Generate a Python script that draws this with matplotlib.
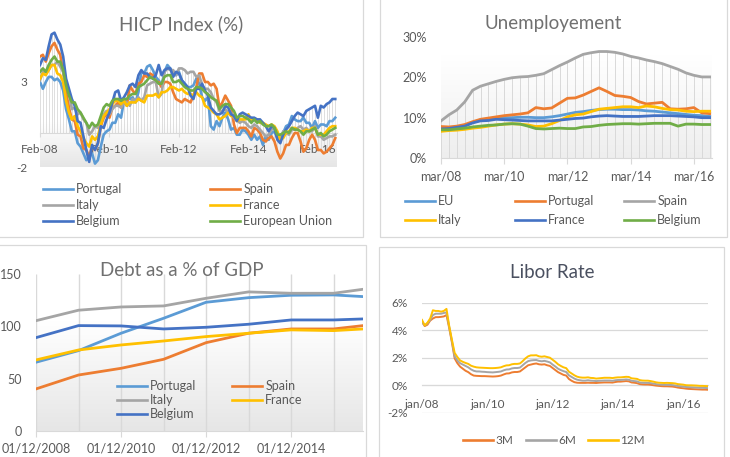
import numpy as np
import matplotlib.pyplot as plt
from matplotlib.colors import LinearSegmentedColormap
from matplotlib.patches import Rectangle
from matplotlib.lines import Line2D

plt.rcParams['font.family'] = ['Lato', 'DejaVu Sans']
plt.rcParams['axes.unicode_minus'] = False

# ---------------- data ----------------
# HICP, monthly, Feb 2008 .. Aug 2016 (annual rate, %)
hicp_portugal = [3.0, 2.6, 3.0, 3.3, 3.3, 3.1, 3.2, 3.0, 2.5, 1.4, 0.8,
                 0.1, 0.1, -0.6, -0.8, -1.2, -1.6, -1.4, -1.2, -1.8, -1.6, -0.8, -0.1,
                 0.1, 0.2, 0.6, 0.6, 1.1, 0.9, 1.9, 2.0, 2.0, 2.1, 1.8, 2.4,
                 3.6, 3.5, 3.9, 4.0, 3.7, 3.3, 3.1, 2.8, 3.6, 4.0, 3.8, 3.5,
                 3.4, 3.6, 3.1, 2.9, 2.7, 2.7, 2.8, 3.2, 2.9, 2.1, 1.9, 2.1,
                 0.4, 0.2, 0.7, 0.4, 0.9, 1.2, 0.8, 0.2, 0.3, -0.1, -0.1, 0.2,
                 0.1, -0.1, -0.4, -0.1, -0.4, -0.2, -0.7, -0.2, -0.4, 0.0, 0.1, -0.3,
                 -0.4, 0.0, 0.4, 0.5, 1.0, 0.8, 0.7, 0.7, 0.9, 0.6, 0.6, 0.3,
                 0.7, 0.3, 0.5, 0.5, 0.4, 0.7, 0.7, 0.9]
hicp_spain = [4.5, 4.6, 4.2, 4.7, 5.1, 5.3, 4.9, 4.6, 3.6, 2.4, 1.5,
              0.8, 0.7, -0.1, -0.2, -0.9, -1.0, -1.4, -0.8, -1.0, -0.6, 0.4, 0.9,
              1.1, 0.9, 1.5, 1.6, 1.8, 1.5, 1.9, 1.6, 2.8, 2.5, 2.3, 2.9,
              3.0, 3.4, 3.3, 3.5, 3.4, 3.0, 3.0, 2.7, 3.0, 3.0, 2.9, 2.4,
              2.0, 1.9, 1.8, 2.0, 1.9, 1.8, 2.2, 2.7, 3.5, 3.5, 3.0, 3.0,
              2.8, 2.9, 2.6, 1.5, 1.8, 2.2, 1.9, 1.6, 0.5, 0.0, 0.3, 0.3,
              0.3, 0.1, -0.2, 0.3, 0.2, 0.0, -0.4, -0.5, -0.3, -0.2, -0.5, -1.1,
              -1.5, -1.2, -0.7, -0.7, -0.3, 0.0, 0.0, -0.5, -1.1, -0.9, -0.4, -0.1,
              -0.4, -1.0, -1.0, -1.2, -1.1, -0.9, -0.7, -0.3]
hicp_italy = [3.1, 3.6, 3.6, 3.7, 4.0, 4.0, 4.2, 3.9, 3.6, 2.7, 2.4,
              1.4, 1.5, 1.1, 1.2, 0.8, 0.6, -0.1, 0.1, 0.4, 0.3, 0.8, 1.1,
              1.3, 1.1, 1.4, 1.6, 1.6, 1.5, 1.8, 1.8, 1.6, 2.0, 1.9, 2.1,
              1.9, 2.1, 2.8, 2.9, 3.0, 3.0, 2.1, 2.3, 3.6, 3.8, 3.7, 3.7,
              3.4, 3.8, 3.8, 3.7, 3.5, 3.6, 3.6, 3.3, 3.4, 2.8, 2.6, 2.6,
              2.4, 2.0, 1.8, 1.3, 1.3, 1.4, 1.2, 1.2, 0.9, 0.8, 0.6, 0.7,
              0.6, 0.4, 0.3, 0.5, 0.4, 0.2, 0.0, -0.2, -0.1, 0.2, 0.3, -0.1,
              -0.5, 0.1, 0.0, -0.1, 0.2, 0.2, 0.3, 0.4, 0.2, 0.3, 0.1, 0.1,
              0.4, -0.2, -0.2, -0.4, -0.3, -0.2, -0.2, -0.1]
hicp_france = [3.2, 3.5, 3.4, 3.7, 4.0, 4.0, 3.5, 3.4, 3.0, 1.9, 1.2,
               0.8, 1.0, 0.4, 0.1, -0.3, -0.6, -0.8, -0.2, -0.4, -0.2, 0.5, 1.0,
               1.2, 1.4, 1.7, 1.9, 1.9, 1.7, 1.9, 1.6, 1.8, 1.8, 1.8, 2.0,
               1.9, 1.8, 2.2, 2.2, 2.2, 2.3, 2.1, 2.4, 2.4, 2.5, 2.7, 2.7,
               2.6, 2.5, 2.6, 2.4, 2.3, 2.3, 2.2, 2.4, 2.2, 2.1, 1.6, 1.5,
               1.4, 1.2, 1.1, 0.8, 0.9, 1.0, 1.2, 1.0, 1.0, 0.7, 0.8, 0.8,
               0.8, 1.1, 0.7, 0.8, 0.8, 0.6, 0.6, 0.5, 0.4, 0.5, 0.4, 0.1,
               -0.4, -0.3, 0.0, 0.1, 0.3, 0.3, 0.2, 0.1, 0.1, 0.2, 0.1, 0.3,
               0.3, -0.1, -0.1, -0.1, 0.1, 0.3, 0.4, 0.4]
hicp_belgium = [4.0, 4.4, 4.3, 5.1, 5.8, 5.9, 5.5, 5.2, 4.5, 3.2, 2.6,
                2.0, 1.6, 0.7, 0.6, -0.2, -1.0, -1.7, -0.7, -1.0, -0.6, 0.4, 0.3,
                0.8, 1.2, 1.8, 2.4, 2.5, 1.9, 2.1, 2.4, 2.8, 2.9, 2.7, 3.4,
                3.7, 3.5, 3.5, 3.3, 3.2, 3.4, 4.0, 3.4, 3.7, 3.8, 3.8, 3.3,
                3.6, 3.5, 3.1, 2.9, 2.7, 2.2, 2.0, 2.6, 2.6, 2.9, 2.5, 2.2,
                1.5, 1.3, 1.1, 1.1, 1.2, 1.6, 1.5, 1.1, 1.0, 0.7, 1.1, 1.2,
                1.1, 1.0, 0.9, 0.9, 0.8, 0.8, 0.6, 0.4, 0.1, 0.4, 0.3, -0.4,
                -0.6, -0.1, 0.2, 0.4, 0.7, 1.0, 1.2, 1.1, 1.0, 1.3, 1.4, 1.5,
                1.6, 0.9, 1.6, 1.5, 1.7, 1.8, 2.0, 2.0]
hicp_eu = [3.6, 3.8, 3.6, 4.0, 4.3, 4.5, 4.2, 4.2, 3.7, 2.8, 2.2,
           1.8, 1.8, 1.4, 1.2, 0.9, 0.6, 0.3, 0.6, 0.4, 0.5, 1.0, 1.5,
           1.7, 1.6, 1.9, 2.0, 2.0, 1.9, 2.0, 2.0, 2.2, 2.3, 2.3, 2.7,
           2.8, 2.9, 3.1, 3.3, 3.2, 3.1, 2.9, 2.9, 3.3, 3.4, 3.4, 3.0,
           3.0, 3.1, 2.9, 2.7, 2.6, 2.5, 2.5, 2.7, 2.7, 2.6, 2.4, 2.3,
           2.1, 2.0, 1.9, 1.4, 1.6, 1.7, 1.7, 1.5, 1.3, 0.9, 1.0, 1.0,
           0.9, 0.8, 0.6, 0.8, 0.6, 0.7, 0.5, 0.4, 0.4, 0.5, 0.3, -0.1,
           -0.1, 0.0, 0.1, 0.0, 0.3, 0.2, 0.2, 0.1, -0.1, 0.1, 0.1, 0.2,
           0.3, -0.1, 0.0, -0.2, -0.1, 0.1, 0.2, 0.3]
hicp_ticks = [0, 24, 48, 72, 96]
hicp_ticklabels = ['Feb-08', 'Feb-10', 'Feb-12', 'Feb-14', 'Feb-16']

# Unemployment, quarterly, Mar 2008 .. Sep 2016 (%)
un_eu = [7.3, 7.4, 7.6, 8.0, 8.8, 9.4, 9.7, 9.9, 10.0, 10.0, 10.1, 10.1,
         10.0, 10.0, 10.2, 10.5, 10.9, 11.3, 11.5, 11.8, 12.0, 12.1, 12.1, 12.0,
         12.0, 11.9, 11.7, 11.6, 11.4, 11.2, 11.0, 10.8, 10.6, 10.5, 10.3]
un_portugal = [7.8, 7.7, 7.9, 8.3, 9.0, 9.6, 9.9, 10.2, 10.5, 10.7, 10.9, 11.2,
               12.5, 12.2, 12.4, 13.6, 14.8, 14.9, 15.6, 16.5, 17.4, 16.5, 15.5, 15.3,
               15.0, 14.0, 13.4, 13.6, 13.8, 12.2, 12.1, 12.2, 12.5, 11.2, 11.0]
un_spain = [9.2, 10.7, 11.9, 13.9, 16.8, 17.8, 18.4, 19.0, 19.5, 19.9, 20.1, 20.2,
            20.5, 20.9, 21.9, 22.9, 23.8, 24.8, 25.7, 26.1, 26.4, 26.4, 26.2, 25.8,
            25.2, 24.8, 24.3, 23.9, 23.4, 22.7, 22.0, 21.1, 20.5, 20.1, 20.1]
un_italy = [6.6, 6.8, 6.9, 7.1, 7.4, 7.6, 7.9, 8.2, 8.4, 8.5, 8.4, 8.2,
            7.8, 7.9, 8.5, 9.3, 10.2, 10.7, 10.9, 11.5, 12.1, 12.3, 12.5, 12.7,
            12.7, 12.5, 12.9, 12.7, 12.3, 12.0, 11.9, 11.6, 11.5, 11.6, 11.6]
un_france = [7.2, 7.3, 7.6, 7.9, 8.7, 9.2, 9.3, 9.6, 9.5, 9.4, 9.3, 9.2,
             9.2, 9.2, 9.2, 9.4, 9.6, 9.8, 9.9, 10.2, 10.4, 10.5, 10.4, 10.3,
             10.3, 10.3, 10.4, 10.5, 10.5, 10.5, 10.4, 10.3, 10.2, 10.0, 10.0]
un_belgium = [7.0, 7.0, 7.2, 7.4, 7.7, 7.9, 8.1, 8.2, 8.4, 8.5, 8.4, 7.9,
              7.3, 7.2, 7.3, 7.4, 7.3, 7.3, 7.7, 7.8, 8.1, 8.3, 8.4, 8.5,
              8.5, 8.4, 8.5, 8.6, 8.6, 8.6, 7.9, 8.4, 8.4, 8.3, 8.3]
un_ticks = [0, 8, 16, 24, 32]
un_ticklabels = ['mar/08', 'mar/10', 'mar/12', 'mar/14', 'mar/16']

# Debt as % of GDP, yearly 2008 .. 2016
debt_portugal = [65.7, 76.8, 93.4, 107.7, 123.0, 127.4, 129.7, 130.0, 127.7]
debt_spain = [40.2, 53.5, 59.9, 68.5, 84.4, 93.4, 97.5, 97.5, 102.1]
debt_italy = [105.4, 115.4, 118.5, 119.5, 126.8, 132.9, 131.6, 131.6, 137.1]
debt_france = [67.9, 77.4, 82.2, 86.0, 90.2, 93.4, 96.6, 95.9, 98.2]
debt_belgium = [89.2, 100.7, 100.4, 97.5, 99.1, 102.0, 106.1, 106.1, 107.5]
debt_ticks = [0, 2, 4, 6]
debt_ticklabels = ['01/12/2008', '01/12/2010', '01/12/2012', '01/12/2014']

# Libor, monthly, Jan 2008 .. Oct 2016 (%)
libor_3m = [4.60, 4.30, 4.40, 4.70, 4.85, 4.95, 4.95, 4.97, 5.00, 5.10, 4.15, 3.10,
            1.95, 1.60, 1.35, 1.20, 1.05, 0.95, 0.80, 0.70, 0.68, 0.67, 0.66, 0.66,
            0.65, 0.64, 0.63, 0.64, 0.66, 0.70, 0.78, 0.85, 0.86, 0.93, 0.96, 0.96,
            1.00, 1.15, 1.30, 1.45, 1.50, 1.55, 1.58, 1.52, 1.50, 1.52, 1.45, 1.40,
            1.25, 1.10, 0.95, 0.85, 0.75, 0.70, 0.45, 0.32, 0.22, 0.18, 0.17, 0.17,
            0.17, 0.18, 0.17, 0.17, 0.16, 0.18, 0.19, 0.20, 0.20, 0.20, 0.19, 0.23,
            0.26, 0.26, 0.28, 0.30, 0.28, 0.20, 0.18, 0.15, 0.08, 0.06, 0.05, 0.05,
            0.03, 0.00, -0.03, -0.05, -0.07, -0.08, -0.08, -0.09, -0.10, -0.13, -0.17, -0.20,
            -0.22, -0.25, -0.27, -0.28, -0.29, -0.30, -0.31, -0.32, -0.32, -0.33]
libor_6m = [4.60, 4.35, 4.50, 4.75, 5.10, 5.20, 5.20, 5.20, 5.25, 5.30, 4.25, 3.20,
            2.10, 1.80, 1.60, 1.50, 1.40, 1.30, 1.15, 1.05, 1.00, 1.00, 0.98, 0.97,
            0.95, 0.94, 0.93, 0.95, 0.97, 1.00, 1.08, 1.14, 1.15, 1.22, 1.25, 1.25,
            1.28, 1.45, 1.62, 1.75, 1.80, 1.82, 1.83, 1.77, 1.74, 1.77, 1.72, 1.66,
            1.50, 1.36, 1.20, 1.10, 1.02, 0.96, 0.72, 0.60, 0.48, 0.40, 0.36, 0.33,
            0.33, 0.36, 0.33, 0.32, 0.30, 0.32, 0.33, 0.34, 0.34, 0.34, 0.32, 0.36,
            0.38, 0.38, 0.40, 0.42, 0.40, 0.32, 0.30, 0.28, 0.20, 0.18, 0.17, 0.17,
            0.15, 0.12, 0.08, 0.05, 0.04, 0.03, 0.03, 0.02, 0.01, -0.02, -0.06, -0.08,
            -0.10, -0.13, -0.14, -0.15, -0.16, -0.17, -0.19, -0.19, -0.20, -0.21]
libor_12m = [4.75, 4.35, 4.55, 4.85, 5.45, 5.40, 5.40, 5.35, 5.40, 5.55, 4.30, 3.30,
             2.35, 2.05, 1.80, 1.70, 1.62, 1.55, 1.42, 1.35, 1.30, 1.28, 1.27, 1.26,
             1.25, 1.24, 1.24, 1.25, 1.27, 1.30, 1.38, 1.44, 1.45, 1.52, 1.55, 1.55,
             1.58, 1.75, 1.95, 2.10, 2.17, 2.17, 2.18, 2.10, 2.07, 2.10, 2.05, 2.00,
             1.85, 1.70, 1.52, 1.40, 1.30, 1.24, 0.98, 0.85, 0.72, 0.62, 0.57, 0.55,
             0.55, 0.57, 0.53, 0.52, 0.48, 0.50, 0.52, 0.54, 0.54, 0.54, 0.52, 0.55,
             0.57, 0.57, 0.59, 0.61, 0.60, 0.50, 0.48, 0.46, 0.37, 0.34, 0.33, 0.33,
             0.30, 0.26, 0.21, 0.18, 0.17, 0.16, 0.17, 0.16, 0.15, 0.13, 0.08, 0.06,
             0.04, 0.00, -0.01, -0.01, -0.02, -0.03, -0.05, -0.05, -0.06, -0.07]
libor_ticks = [0, 24, 48, 72, 96]
libor_ticklabels = ['jan/08', 'jan/10', 'jan/12', 'jan/14', 'jan/16']

# ---------------- styling ----------------
C_LBLUE, C_ORANGE, C_GRAY = '#5B9BD5', '#ED7D31', '#A5A5A5'
C_YELLOW, C_DBLUE, C_GREEN = '#FFC000', '#4472C4', '#70AD47'
TXT = '#595959'
TITLE = '#707070'
GRID = '#d9d9d9'

W, H = 730, 457
fig = plt.figure(figsize=(7.3, 4.57), dpi=100)


def box(l, t, r, b):
    # pixel box (from the top-left corner) -> figure fraction
    return [l / W, 1 - b / H, (r - l) / W, (b - t) / H]


def panel(l, t, r, b):
    fig.add_artist(Rectangle((l / W, 1 - b / H), (r - l) / W, (b - t) / H,
                             transform=fig.transFigure, fill=False,
                             ec='#d9d9d9', lw=0.9))


def gradient(ax, x0, x1, y0, y1, start, color):
    # white above 'start' (fraction of height), fading to color at the bottom
    t = np.linspace(0, 1, 256)[:, None]
    a = np.clip((start - t) / start, 0, 1)
    cmap = LinearSegmentedColormap.from_list('bg', ['white', color])
    ax.imshow(a, extent=[x0, x1, y0, y1], origin='lower', aspect='auto',
              cmap=cmap, vmin=0, vmax=1, zorder=0, interpolation='bilinear')


def legend_col(items, x, y, fs, spacing, hl=2.4):
    handles = [Line2D([], [], color=c, lw=1.9) for c, _ in items]
    labels = [n for _, n in items]
    fig.legend(handles, labels, loc='upper left', bbox_to_anchor=(x / W, 1 - y / H),
               frameon=False, fontsize=fs, handlelength=hl, handletextpad=0.25,
               borderpad=0, borderaxespad=0, labelspacing=spacing,
               labelcolor=TXT)


def plain(ax):
    ax.set_facecolor('none')
    for s in ax.spines.values():
        s.set_visible(False)


panel(-5, -5, 363, 237)
panel(380, -5, 727, 237)
panel(-5, 245, 366, 462)
panel(379, 247, 724, 462)

# ---------------- HICP ----------------
ax1 = fig.add_axes(box(40, 31, 337, 167))
plain(ax1)
xm = np.arange(len(hicp_portugal))
hicp_all = np.array([hicp_portugal, hicp_spain, hicp_italy, hicp_france, hicp_belgium, hicp_eu])
ax1.vlines(xm, np.minimum(hicp_all.min(axis=0), 0), np.maximum(hicp_all.max(axis=0), 0),
           color=GRID, lw=0.6, zorder=1)
for vals, c in zip(hicp_all, [C_LBLUE, C_ORANGE, C_GRAY, C_YELLOW, C_DBLUE, C_GREEN]):
    ax1.plot(xm, vals, color=c, lw=1.9, zorder=3)
gradient(ax1, 0, 102.6, -2, 6, 0.33, '#e6e6e6')
ax1.set_xlim(0, 102.6)
ax1.set_ylim(-2, 6)
ax1.spines['bottom'].set_visible(True)
ax1.spines['bottom'].set_position(('data', 0))
ax1.spines['bottom'].set_color(GRID)
ax1.set_xticks(hicp_ticks, hicp_ticklabels)
ax1.set_yticks([-2, 3], ['-2', '3'])
ax1.tick_params(axis='x', length=3, color=GRID, pad=5, labelsize=8.5, labelcolor=TXT)
ax1.tick_params(axis='y', length=0, pad=9, labelsize=8.5, labelcolor=TXT)
fig.text(181 / W, 1 - 24 / H, 'HICP Index (%)', ha='center', va='center',
         fontsize=13.5, color=TITLE)
legend_col([(C_LBLUE, 'Portugal'), (C_GRAY, 'Italy'), (C_DBLUE, 'Belgium')],
           43, 183, 9, 0.33)
legend_col([(C_ORANGE, 'Spain'), (C_YELLOW, 'France'), (C_GREEN, 'European Union')],
           210, 183, 9, 0.33)

# ---------------- Unemployment ----------------
ax2 = fig.add_axes(box(441, 37, 712, 158))
plain(ax2)
xq = np.arange(len(un_spain))
ax2.vlines(xq, 0, un_spain, color=GRID, lw=0.7, zorder=1)
for vals, c in zip([un_eu, un_portugal, un_spain, un_italy, un_france, un_belgium],
                   [C_LBLUE, C_ORANGE, C_GRAY, C_YELLOW, C_DBLUE, C_GREEN]):
    ax2.plot(xq, vals, color=c, lw=2, zorder=3)
gradient(ax2, 0, 34.3, 0, 30, 0.85, '#eeeeee')
ax2.set_xlim(0, 34.3)
ax2.set_ylim(0, 30)
ax2.spines['bottom'].set_visible(True)
ax2.spines['bottom'].set_color(GRID)
ax2.set_xticks(un_ticks, un_ticklabels)
ax2.set_yticks([0, 10, 20, 30], ['0%', '10%', '20%', '30%'])
ax2.tick_params(axis='x', length=4, color=GRID, pad=5, labelsize=9, labelcolor=TXT)
ax2.tick_params(axis='y', length=0, pad=10, labelsize=9, labelcolor=TXT)
fig.text(553 / W, 1 - 23 / H, 'Unemployement', ha='center', va='center',
         fontsize=13.5, color=TITLE)
legend_col([(C_LBLUE, 'EU'), (C_YELLOW, 'Italy')], 405, 195, 9, 0.6)
legend_col([(C_ORANGE, 'Portugal'), (C_DBLUE, 'France')], 515, 195, 9, 0.6)
legend_col([(C_GRAY, 'Spain'), (C_GREEN, 'Belgium')], 624, 195, 9, 0.6)

# ---------------- Debt ----------------
ax3 = fig.add_axes(box(36, 274, 363, 431))
plain(ax3)
xy = np.arange(len(debt_italy))
gradient(ax3, 0, 7.69, 0, 150, 0.7, '#e6e6e6')
ax3.vlines(xy, 0, 150, color=GRID, lw=1, zorder=1)
for vals, c in zip([debt_portugal, debt_spain, debt_italy, debt_france, debt_belgium],
                   [C_LBLUE, C_ORANGE, C_GRAY, C_YELLOW, C_DBLUE]):
    ax3.plot(xy, vals, color=c, lw=2, zorder=3)
ax3.set_xlim(0, 7.69)
ax3.set_ylim(0, 150)
ax3.spines['bottom'].set_visible(True)
ax3.spines['bottom'].set_color(GRID)
ax3.set_xticks(debt_ticks, debt_ticklabels)
ax3.set_yticks([0, 50, 100, 150])
ax3.tick_params(axis='x', length=4, color=GRID, pad=4, labelsize=9, labelcolor=TXT)
ax3.tick_params(axis='y', length=0, pad=10, labelsize=9, labelcolor=TXT)
fig.text(182 / W, 1 - 271 / H, 'Debt as a % of GDP', ha='center', va='center',
         fontsize=13.5, color=TITLE)
legend_col([(C_LBLUE, 'Portugal'), (C_GRAY, 'Italy'), (C_DBLUE, 'Belgium')],
           117, 380, 9, 0.17)
legend_col([(C_ORANGE, 'Spain'), (C_YELLOW, 'France')], 232, 380, 9, 0.17)

# ---------------- Libor ----------------
ax4 = fig.add_axes(box(422, 302.7, 708, 412.7))
plain(ax4)
xl = np.arange(len(libor_3m))
for vals, c in zip([libor_3m, libor_6m, libor_12m], [C_ORANGE, C_GRAY, C_YELLOW]):
    ax4.plot(xl, vals, color=c, lw=1.4, zorder=3)
ax4.set_xlim(0, 105.1)
ax4.set_ylim(-2, 6)
ax4.set_yticks([-2, 0, 2, 4, 6], ['-2%', '0%', '2%', '4%', '6%'])
ax4.grid(True, axis='y', color=GRID, lw=0.9)
ax4.spines['bottom'].set_visible(True)
ax4.spines['bottom'].set_position(('data', 0))
ax4.spines['bottom'].set_color(GRID)
ax4.set_xticks(libor_ticks, libor_ticklabels)
ax4.tick_params(axis='x', length=0, pad=10, labelsize=8.5, labelcolor=TXT)
ax4.tick_params(axis='y', length=0, pad=10, labelsize=8.5, labelcolor=TXT)
fig.text(552 / W, 1 - 272 / H, 'Libor Rate', ha='center', va='center',
         fontsize=13.5, color='#4a5060')
legend_col([(C_ORANGE, '3M')], 463, 435, 8.5, 0.2, hl=2.5)
legend_col([(C_GRAY, '6M')], 526, 435, 8.5, 0.2, hl=2.5)
legend_col([(C_YELLOW, '12M')], 588, 435, 8.5, 0.2, hl=2.5)

fig.savefig('out.png', dpi=100)
